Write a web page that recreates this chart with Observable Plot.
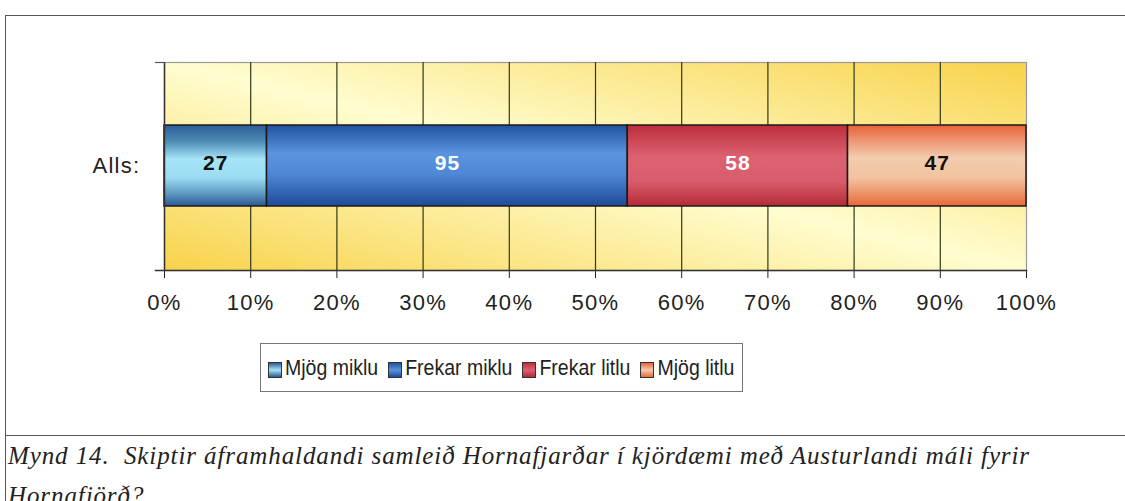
<!DOCTYPE html>
<html><head><meta charset="utf-8">
<script src="https://cdn.jsdelivr.net/npm/d3@7"></script>
<script src="https://cdn.jsdelivr.net/npm/@observablehq/plot@0.6"></script>
<style>
body{margin:0;background:#fff;width:1125px;height:501px;overflow:hidden;position:relative;font-family:"Liberation Sans",Arial,sans-serif;}
#frame{position:absolute;left:5px;top:15px;width:1130px;height:520px;border:1.5px solid #555;box-sizing:border-box;}
#sep{position:absolute;left:5px;top:435px;width:1130px;border-top:1.5px solid #555;}
#chart{position:absolute;left:0;top:0;}
#legend{position:absolute;left:260px;top:343px;width:483px;height:49px;border:1px solid #777;box-sizing:border-box;display:flex;align-items:center;padding-left:7px;font-size:19.5px;color:#222;}
#legend .item{display:flex;align-items:center;margin-right:10px;white-space:nowrap;}
#legend .item span{display:inline-block;transform:scaleY(1.15);}
#legend .sw{width:12px;height:14px;border:1px solid #333;margin-right:3px;margin-top:5px;}
#caption{position:absolute;left:8px;top:436px;font-family:"Liberation Serif","Times New Roman",serif;font-style:italic;font-size:25px;letter-spacing:0.9px;line-height:40px;color:#222;white-space:nowrap;}
</style></head>
<body>
<svg width="0" height="0" style="position:absolute">
  <defs>
    <linearGradient id="bg" x1="1" y1="0" x2="0" y2="1">
      <stop offset="0" stop-color="#F8D24A"/>
      <stop offset="0.5" stop-color="#FFFDD0"/>
      <stop offset="1" stop-color="#F8D24A"/>
    </linearGradient>
    <linearGradient id="g0" x1="0" y1="0" x2="0" y2="1">
      <stop offset="0" stop-color="#2C5C98"/>
      <stop offset="0.2" stop-color="#4C8CB4"/>
      <stop offset="0.42" stop-color="#A6E4F8"/>
      <stop offset="0.65" stop-color="#9CDCF2"/>
      <stop offset="0.85" stop-color="#5C98C0"/>
      <stop offset="1" stop-color="#2A5894"/>
    </linearGradient>
    <linearGradient id="g1" x1="0" y1="0" x2="0" y2="1">
      <stop offset="0" stop-color="#22519F"/>
      <stop offset="0.35" stop-color="#5A94DE"/>
      <stop offset="0.6" stop-color="#4F88D6"/>
      <stop offset="1" stop-color="#1F4A98"/>
    </linearGradient>
    <linearGradient id="g2" x1="0" y1="0" x2="0" y2="1">
      <stop offset="0" stop-color="#BC2E3C"/>
      <stop offset="0.4" stop-color="#DC6272"/>
      <stop offset="0.7" stop-color="#D85C6C"/>
      <stop offset="1" stop-color="#B42A36"/>
    </linearGradient>
    <linearGradient id="g3" x1="0" y1="0" x2="0" y2="1">
      <stop offset="0" stop-color="#E8623A"/>
      <stop offset="0.4" stop-color="#F2CCAE"/>
      <stop offset="0.65" stop-color="#F2C4A0"/>
      <stop offset="1" stop-color="#E8683A"/>
    </linearGradient>
  </defs>
</svg>
<div id="frame"></div>
<div id="sep"></div>
<div id="chart"></div>
<div id="legend"></div>
<div id="caption"></div>
<script>
const categories = ["Alls:"];
const series = ["Mjög miklu", "Frekar miklu", "Frekar litlu", "Mjög litlu"];
const values = [27, 95, 58, 47];
const labelColors = ["#111111", "#ffffff", "#ffffff", "#111111"];
const xTicks = [0, 0.1, 0.2, 0.3, 0.4, 0.5, 0.6, 0.7, 0.8, 0.9, 1];
const swatchCss = [
  "linear-gradient(#2C5C98,#A6E4F8 50%,#2A5894)",
  "linear-gradient(#22519F,#5A94DE 50%,#1F4A98)",
  "linear-gradient(#BC2E3C,#DC6272 50%,#B42A36)",
  "linear-gradient(#E8623A,#F2CCAE 50%,#E8683A)"
];
const captionLines = ["Mynd 14.\u00a0 Skiptir áframhaldandi samleið Hornafjarðar í kjördæmi með Austurlandi máli fyrir", "Hornafjörð?"];

const data = series.map((s, i) => ({cat: categories[0], series: s, value: values[i], idx: i}));

const chart = Plot.plot({
  width: 1125, height: 330,
  marginLeft: 164, marginRight: 99, marginTop: 62, marginBottom: 60,
  style: {fontFamily: '"Liberation Sans",Arial,sans-serif', fontSize: "22px", color: "#222", background: "transparent", overflow: "visible"},
  x: {domain: [0, 1], ticks: xTicks, tickFormat: d3.format(".0%"), tickSize: 8, tickPadding: 16, label: null},
  y: {domain: categories, padding: 0.435, tickSize: 0, tickPadding: 24, label: null},
  color: {type: "identity"},
  marks: [
    Plot.frame({fill: "url(#bg)", stroke: "#999", strokeWidth: 1.2}),
    Plot.gridX(xTicks.slice(1, -1), {stroke: "#2f3a1a", strokeOpacity: 1, strokeWidth: 1.2}),
    Plot.barX(data, Plot.stackX({x: "value", y: "cat", z: "series", offset: "normalize", fill: d => `url(#g${d.idx})`, stroke: "#1a1a1a", strokeWidth: 1.5})),
    Plot.textX(data, Plot.stackX({x: "value", y: "cat", z: "series", offset: "normalize", text: d => String(d.value), fill: d => labelColors[d.idx], fontWeight: "bold", fontSize: 21, dy: -3})),
    Plot.ruleX([0], {stroke: "#333", strokeWidth: 1.5}),
    Plot.frame({anchor: "bottom", stroke: "#333", strokeWidth: 1.5, insetLeft: -9}),
    Plot.frame({anchor: "top", stroke: "#555", strokeWidth: 1.2, insetLeft: -9, insetRight: 862})
  ]
});
chart.querySelectorAll("g[aria-label='x-axis tick label'] text, g[aria-label='y-axis tick label'] text").forEach(t => t.style.letterSpacing = "1.3px");
chart.querySelectorAll("g[aria-label='text'] text").forEach(t => t.style.letterSpacing = "1px");
document.getElementById("chart").appendChild(chart);

const legend = document.getElementById("legend");
series.forEach((s, i) => {
  const item = document.createElement("div");
  item.className = "item";
  const sw = document.createElement("div");
  sw.className = "sw";
  sw.style.background = swatchCss[i];
  const t = document.createElement("span");
  t.textContent = s;
  item.appendChild(sw); item.appendChild(t);
  legend.appendChild(item);
});
const cap = document.getElementById("caption");
captionLines.forEach((l, i) => {
  if (i) cap.appendChild(document.createElement("br"));
  cap.appendChild(document.createTextNode(l));
});
</script>
</body></html>
